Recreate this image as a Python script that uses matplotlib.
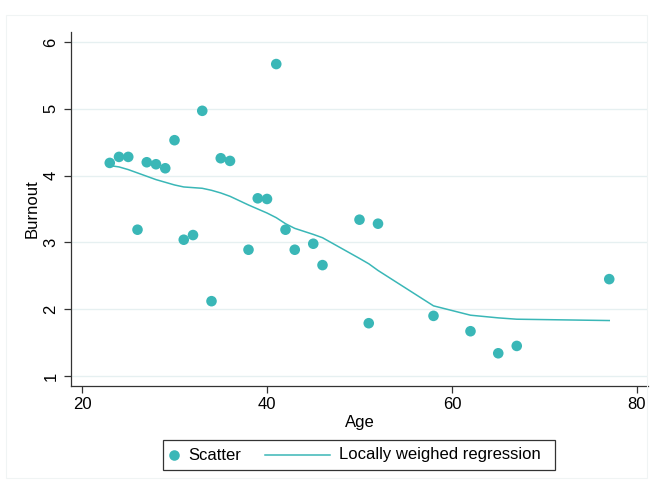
import numpy as np
import matplotlib.pyplot as plt
from matplotlib.patches import Rectangle
from matplotlib.lines import Line2D

plt.rcParams['font.family'] = ['Liberation Sans', 'DejaVu Sans']

# Data
age = [23, 24, 25, 26, 27, 28, 29, 30, 31, 32, 33, 34, 35, 36, 38, 39, 40,
       41, 42, 43, 45, 46, 50, 51, 52, 58, 62, 65, 67, 77]
burnout = [4.19, 4.28, 4.28, 3.19, 4.20, 4.17, 4.11, 4.53, 3.04, 3.11, 4.97,
           2.12, 4.26, 4.22, 2.89, 3.66, 3.65, 5.67, 3.19, 2.89, 2.98, 2.66,
           3.34, 1.79, 3.28, 1.90, 1.67, 1.34, 1.45, 2.45]
lowess_fit = [4.15, 4.13, 4.09, 4.04, 3.99, 3.94, 3.90, 3.86, 3.83, 3.82, 3.81,
              3.78, 3.74, 3.69, 3.56, 3.50, 3.44, 3.37, 3.28, 3.21, 3.12, 3.07,
              2.76, 2.68, 2.58, 2.05, 1.91, 1.87, 1.85, 1.83]

xticks = [20, 40, 60, 80]
yticks = [1, 2, 3, 4, 5, 6]

teal = '#3ab7b7'
W, H = 653, 484

def fx(px):
    return px / W

def fy(py):
    return 1 - py / H

fig = plt.figure(figsize=(6.53, 4.84), dpi=100)
# faint outer graph region border
fig.patches.append(Rectangle((fx(6), fy(478)), 641/W, 463/H,
                             transform=fig.transFigure, fill=False,
                             edgecolor='#f0f4f4', linewidth=0.8))

ax = fig.add_axes([fx(71), fy(386), 577/W, 354/H])
ax.scatter(age, burnout, s=58, color=teal, edgecolors='none', zorder=3)
ax.plot(age, lowess_fit, color=teal, linewidth=1.1, zorder=2)

ax.set_xlim(18.81, 81.19)
ax.set_ylim(0.85, 6.15)
ax.set_xticks(xticks)
ax.set_yticks(yticks)
ax.set_yticklabels([str(t) for t in yticks], rotation=90, va='center')
ax.grid(axis='y', color='#e6f0f1', linewidth=1.0)
ax.set_axisbelow(True)
for s in ['top', 'right']:
    ax.spines[s].set_visible(False)
for s in ['left', 'bottom']:
    ax.spines[s].set_color('#333333')
    ax.spines[s].set_linewidth(0.9)
ax.tick_params(axis='both', direction='out', length=5, width=0.9, color='#333333',
               labelsize=12)
ax.tick_params(axis='x', pad=3)
ax.tick_params(axis='y', pad=4)
ax.set_xlabel('Age', fontsize=12, labelpad=2)
ax.set_ylabel('Burnout', fontsize=12, labelpad=3)

# legend box (Stata style, drawn by hand for exact spacing)
fig.patches.append(Rectangle((fx(163), fy(470)), 392/W, 30/H,
                             transform=fig.transFigure, fill=True,
                             facecolor='white', edgecolor='#333333', linewidth=0.9))
fig.add_artist(Line2D([fx(174)], [fy(455)], marker='o', markersize=7.6,
                      color=teal, markeredgewidth=0, linestyle='none'))
fig.text(fx(188), fy(455), 'Scatter', fontsize=12, va='center', ha='left')
fig.add_artist(Line2D([fx(265), fx(330)], [fy(455), fy(455)], color=teal, linewidth=1.1))
fig.text(fx(339), fy(455), 'Locally weighed regression', fontsize=12,
         va='center', ha='left')

fig.savefig('out.png', dpi=100)
